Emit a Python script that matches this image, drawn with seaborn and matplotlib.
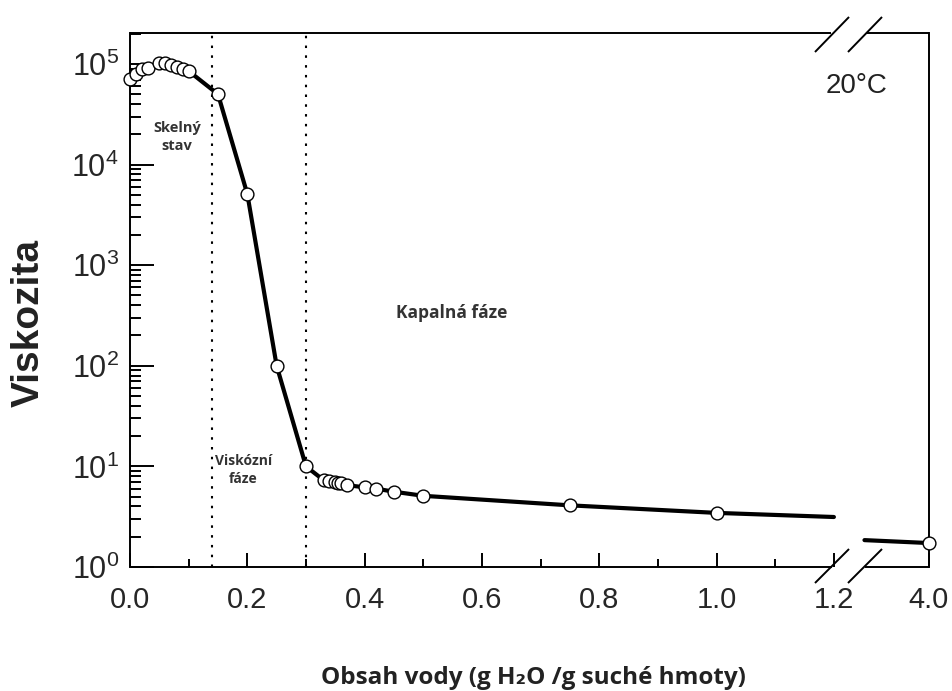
import numpy as np
import matplotlib
matplotlib.use("Agg")
import matplotlib.pyplot as plt
import seaborn as sns
from matplotlib.ticker import FixedLocator, LogLocator, NullFormatter, LogFormatterSciNotation

# namerene body (obsah vody g/g, viskozita)
water = [0.0, 0.01, 0.02, 0.03, 0.05, 0.06, 0.07, 0.08, 0.09, 0.10,
         0.15, 0.20, 0.25, 0.30, 0.33, 0.34, 0.35, 0.355, 0.36, 0.37,
         0.40, 0.42, 0.45, 0.50, 0.75, 1.0, 4.0]
viscosity = [71000, 80000, 89000, 91000, 102000, 102000, 98000, 93000, 89000, 85000,
             50000, 5100, 100, 10, 7.3, 7.15, 7.0, 6.85, 6.8, 6.5,
             6.2, 6.0, 5.6, 5.1, 4.1, 3.45, 1.73]

# krivka - dva useky kvuli preruseni osy
curve1_x = water[:-1] + [1.2]
curve1_y = viscosity[:-1] + [3.14]
curve2_x = [2.1, 4.0]
curve2_y = [1.85, 1.73]

glass_limit = 0.14
viscous_limit = 0.30

xticks = [0.0, 0.2, 0.4, 0.6, 0.8, 1.0, 1.2, 4.0]
xtick_labels = ["0.0", "0.2", "0.4", "0.6", "0.8", "1.0", "1.2", "4.0"]
xminor = [0.1, 0.3, 0.5, 0.7, 0.9, 1.1]

BREAK = 1.2
K = 0.0579


def fwd(x):
    x = np.asarray(x, dtype=float)
    return np.where(x <= BREAK, x, BREAK + (x - BREAK) * K)


def inv(x):
    x = np.asarray(x, dtype=float)
    return np.where(x <= BREAK, x, BREAK + (x - BREAK) / K)


sns.set_theme(style="ticks")
plt.rcParams["font.family"] = ["Liberation Sans", "DejaVu Sans"]
plt.rcParams["mathtext.default"] = "regular"

fig = plt.figure(figsize=(9.52, 6.91), dpi=100)
ax = fig.add_axes([130 / 952, 124 / 691, 799 / 952, 534 / 691])

sns.lineplot(x=curve1_x, y=curve1_y, ax=ax, color="black", lw=3.0,
             sort=False, estimator=None, zorder=2)
sns.lineplot(x=curve2_x, y=curve2_y, ax=ax, color="black", lw=3.0,
             sort=False, estimator=None, zorder=2)
sns.scatterplot(x=water, y=viscosity, ax=ax, s=85, color="white",
                edgecolor="black", linewidth=1.0, zorder=3, clip_on=False)

ax.set_xscale("function", functions=(fwd, inv))
ax.set_yscale("log")
ax.set_xlim(0, 4.0)
ax.set_ylim(1, 2.03e5)

for xv in (glass_limit, viscous_limit):
    ax.axvline(xv, color="black", lw=1.5, ls=(0, (1.2, 3.5)), zorder=1)

ax.xaxis.set_major_locator(FixedLocator(xticks))
ax.set_xticklabels(xtick_labels)
ax.xaxis.set_minor_locator(FixedLocator(xminor))
ax.xaxis.set_minor_formatter(NullFormatter())
ax.yaxis.set_major_locator(LogLocator(base=10, numticks=10))
ax.yaxis.set_major_formatter(LogFormatterSciNotation())
ax.yaxis.set_minor_locator(LogLocator(base=10, subs=np.arange(2, 10), numticks=20))
ax.yaxis.set_minor_formatter(NullFormatter())

ax.tick_params(axis="both", which="both", direction="in", top=False, right=False,
               color="black", width=1.4)
ax.tick_params(axis="x", which="major", length=10, labelsize=21, pad=14)
ax.tick_params(axis="x", which="minor", length=6)
ax.tick_params(axis="y", which="major", length=17, labelsize=22, pad=8)
ax.tick_params(axis="y", which="minor", length=8)

for side in ("left", "right"):
    ax.spines[side].set_linewidth(1.4)
    ax.spines[side].set_color("black")
ax.spines["top"].set_visible(False)
ax.spines["bottom"].set_visible(False)

# prerusena horni a dolni osa
kw = dict(transform=ax.transAxes, color="black", lw=1.4, clip_on=False,
          solid_capstyle="butt")
ax.plot([0, 0.8786], [0, 0], **kw)
ax.plot([0.9199, 1], [0, 0], **kw)
ax.plot([0, 0.8773], [1, 1], **kw)
ax.plot([0.9224, 1], [1, 1], **kw)
for x0 in (0.8573, 0.8986):
    ax.plot([x0, x0 + 0.0426], [-0.030, 0.0337], **kw)
    ax.plot([x0, x0 + 0.0426], [0.9644, 1.030], **kw)

label_font = ["Open Sans", "DejaVu Sans"]
ax.text(0.080, 18800, "Skelný\nstav", ha="center", va="center", fontsize=10.5,
        fontweight="bold", family=label_font, color="#333333", linespacing=1.3)
ax.text(0.193, 9.2, "Viskózní\nfáze", ha="center", va="center", fontsize=10,
        fontweight="bold", family=label_font, color="#333333", linespacing=1.3)
ax.text(0.549, 335, "Kapalná fáze", ha="center", va="center", fontsize=12.5,
        fontweight="bold", family=label_font, color="#333333")
ax.text(0.909, 0.90, "20°C", transform=ax.transAxes, ha="center", va="center",
        fontsize=20, color="#222222")

fig.text(29 / 952, 1 - 323 / 691, "Viskozita", rotation=90, ha="center", va="center",
         fontsize=28, fontweight="bold", color="#222222")
fig.text(533 / 952, 13 / 691, "Obsah vody (g H₂O /g suché hmoty)", ha="center",
         va="center", fontsize=17.5, fontweight="bold", family=label_font, color="#222222")

fig.savefig("out.png", dpi=100)
